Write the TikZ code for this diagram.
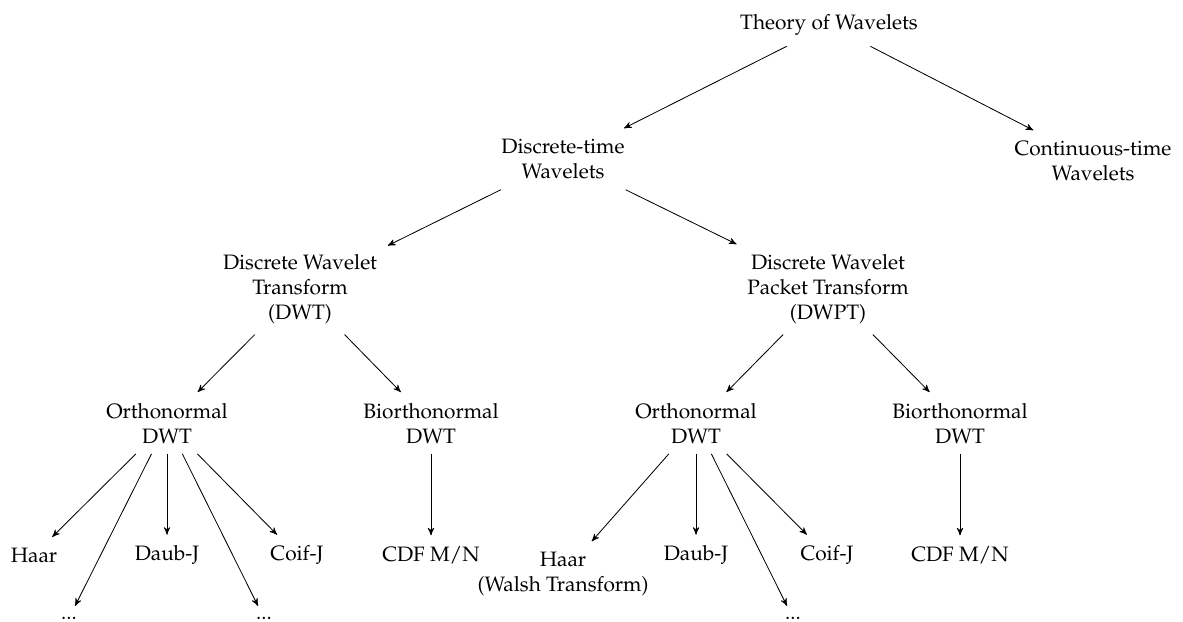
\documentclass[tikz,border=0pt]{standalone}
\usepackage[T1]{fontenc}
\usepackage{mathpazo}
\usetikzlibrary{arrows}

\begin{document}
\begin{tikzpicture}[->, >=stealth', x=0.48pt, y=-0.48pt,
	every node/.style={align=center, inner sep=5pt}
]
\useasboundingbox (0,0) rectangle (1183,622);

% levels 1 to 3
\node (theory) at (829,25) {Theory of Wavelets};
\node (discrete) at (563,159) {Discrete-time\\ Wavelets};
\node (continuous) at (1093,161) {Continuous-time\\ Wavelets};
\node (dwt) at (300,289) {Discrete Wavelet\\ Transform\\ (DWT)};
\node (dwpt) at (828,289) {Discrete Wavelet\\ Packet Transform\\ (DWPT)};

% level 4
\node (orthoL) at (167,423) {Orthonormal\\ DWT};
\node (bioL) at (431,423) {Biorthonormal\\ DWT};
\node (orthoR) at (696,423) {Orthonormal\\ DWT};
\node (bioR) at (960,423) {Biorthonormal\\ DWT};

% leaves
\node (haarL) at (34,555) {Haar};
\node (dotsLa) at (69,618) {...};
\node (daubL) at (167,555) {Daub-J};
\node (dotsLb) at (264,618) {...};
\node (coifL) at (297,555) {Coif-J};
\node (cdfL) at (431,555) {CDF M/N};
\node (haarR) at (563,574) {Haar\\ (Walsh Transform)};
\node (daubR) at (696,555) {Daub-J};
\node (dotsR) at (793,618) {...};
\node (coifR) at (827,555) {Coif-J};
\node (cdfR) at (960,555) {CDF M/N};

\foreach \from/\to in {theory/discrete, theory/continuous, discrete/dwt, discrete/dwpt,
	dwt/orthoL, dwt/bioL, dwpt/orthoR, dwpt/bioR,
	orthoL/haarL, orthoL/dotsLa, orthoL/daubL, orthoL/dotsLb, orthoL/coifL, bioL/cdfL,
	orthoR/haarR, orthoR/daubR, orthoR/dotsR, orthoR/coifR, bioR/cdfR}
	\draw (\from) -- (\to);
\end{tikzpicture}
\end{document}
